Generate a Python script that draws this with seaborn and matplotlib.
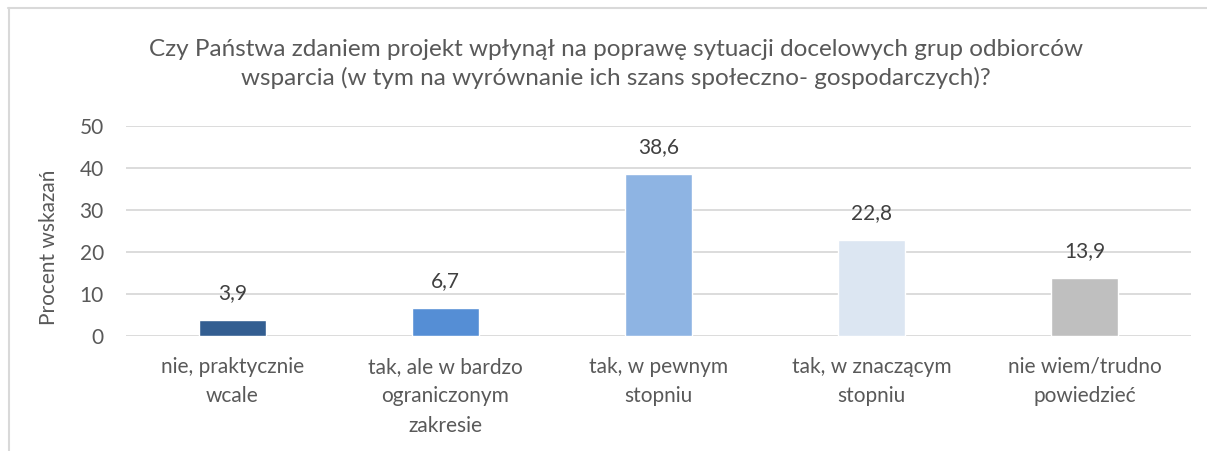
import matplotlib
matplotlib.use("Agg")
import matplotlib.pyplot as plt
from matplotlib.lines import Line2D
import seaborn as sns
import pandas as pd

categories = [
    "nie, praktycznie\nwcale",
    "tak, ale w bardzo\nograniczonym\nzakresie",
    "tak, w pewnym\nstopniu",
    "tak, w znaczącym\nstopniu",
    "nie wiem/trudno\npowiedzieć",
]
values = [3.9, 6.7, 38.6, 22.8, 13.9]
value_labels = ["3,9", "6,7", "38,6", "22,8", "13,9"]
colors = ["#335E91", "#558ED5", "#8EB4E3", "#DCE6F2", "#BFBFBF"]
title = ("Czy Państwa zdaniem projekt wpłynął na poprawę sytuacji docelowych grup odbiorców\n"
         "wsparcia (w tym na wyrównanie ich szans społeczno- gospodarczych)?")

sns.set_theme(style="white")
plt.rcParams["font.family"] = ["Lato", "DejaVu Sans"]
text_color = "#595959"
grid_color = "#D9D9D9"

W, H = 1207, 451
fig = plt.figure(figsize=(W / 100, H / 100), dpi=100)
ax = fig.add_axes([126 / W, 1 - 336 / H, (1191 - 126) / W, (336 - 126) / H])

df = pd.DataFrame({"kategoria": categories, "procent": values})
sns.barplot(data=df, x="kategoria", y="procent", hue="kategoria",
            palette=colors, width=0.31, legend=False, ax=ax, saturation=1)

ax.set_ylim(0, 50)
ax.set_xlim(-0.5, 4.5)
ax.set_yticks(range(0, 51, 10))
ax.yaxis.grid(True, color=grid_color, linewidth=1.3)
ax.set_axisbelow(True)
for s in ax.spines.values():
    s.set_visible(False)
ax.tick_params(axis="both", length=0, colors=text_color, labelsize=15)
ax.tick_params(axis="y", pad=16)
ax.tick_params(axis="x", pad=15)
for lab in ax.get_xticklabels():
    lab.set_linespacing(1.6)
ax.set_xlabel("")
ax.set_ylabel("Procent wskazań", color=text_color, fontsize=15)
ax.yaxis.set_label_coords(-0.063, 0.42)

for i, (v, t) in enumerate(zip(values, value_labels)):
    ax.annotate(t, (i, v), xytext=(0, 12), textcoords="offset points",
                ha="center", va="bottom", color="#404040", fontsize=15)

fig.text(616 / W, 1 - 64 / H, title, ha="center", va="center",
         fontsize=17.5, color=text_color, linespacing=1.36)

# light frame along the top and left edges
fig.add_artist(Line2D([8 / W, 1], [1 - 8 / H, 1 - 8 / H], transform=fig.transFigure,
                      color=grid_color, linewidth=1.5))
fig.add_artist(Line2D([8.5 / W, 8.5 / W], [0, 1 - 8 / H], transform=fig.transFigure,
                      color=grid_color, linewidth=1.5))

fig.savefig("out.png", dpi=100)
